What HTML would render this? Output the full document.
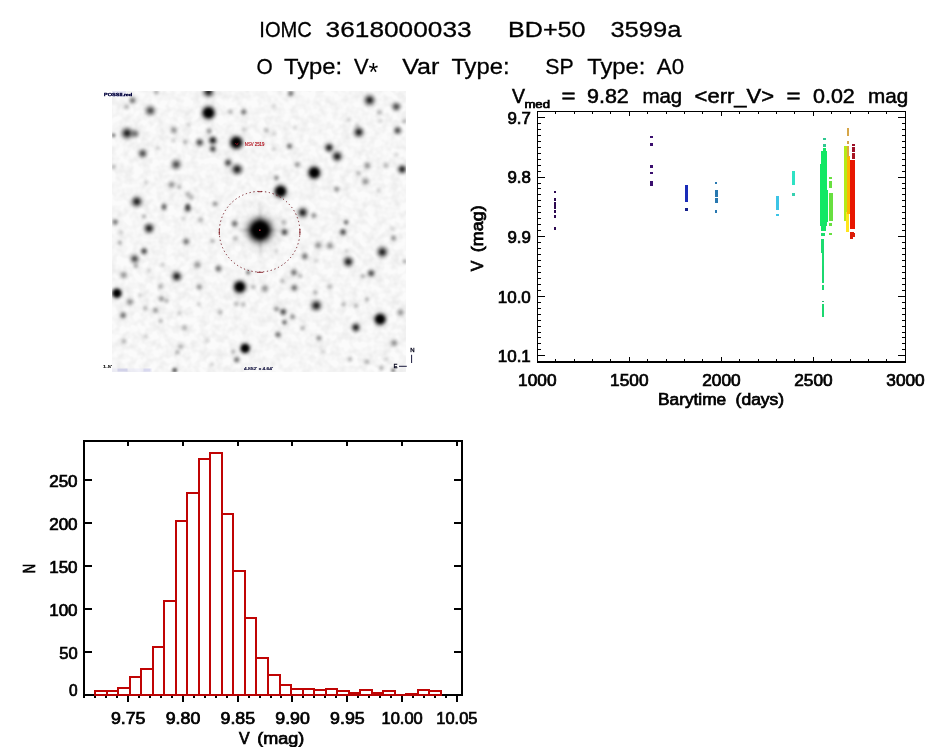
<!DOCTYPE html>
<html lang="en"><head><meta charset="utf-8"><title>IOMC 3618000033</title>
<style>
html,body{margin:0;padding:0;background:#fff;}
body{width:944px;height:747px;overflow:hidden;}
svg{display:block;position:absolute;left:0;top:0;}
text{font-family:"Liberation Sans",sans-serif;fill:#000;}
.t{font-size:22.8px;stroke:#000;stroke-width:0.3px;}
.p{font-size:15.6px;stroke:#000;stroke-width:0.7px;}
.pt{font-size:19.3px;stroke:#000;stroke-width:0.5px;}
.ps{font-size:11px;stroke:#000;stroke-width:0.7px;}
.ax{stroke:#000;fill:none;shape-rendering:crispEdges;}
.hb{stroke:#c00404;stroke-width:2;fill:none;shape-rendering:crispEdges;}
</style></head><body>
<svg width="944" height="747" viewBox="0 0 944 747">
<defs>
<radialGradient id="g"><stop offset="0" stop-color="#000" stop-opacity="1"/><stop offset="0.15" stop-color="#000" stop-opacity="0.93"/><stop offset="0.3" stop-color="#000" stop-opacity="0.75"/><stop offset="0.45" stop-color="#000" stop-opacity="0.52"/><stop offset="0.6" stop-color="#000" stop-opacity="0.3"/><stop offset="0.75" stop-color="#000" stop-opacity="0.14"/><stop offset="0.9" stop-color="#000" stop-opacity="0.04"/><stop offset="1" stop-color="#000" stop-opacity="0"/></radialGradient>
<radialGradient id="s"><stop offset="0" stop-color="#000" stop-opacity="1"/><stop offset="0.2" stop-color="#000" stop-opacity="1"/><stop offset="0.34" stop-color="#000" stop-opacity="0.86"/><stop offset="0.48" stop-color="#000" stop-opacity="0.6"/><stop offset="0.62" stop-color="#000" stop-opacity="0.34"/><stop offset="0.78" stop-color="#000" stop-opacity="0.13"/><stop offset="0.9" stop-color="#000" stop-opacity="0.04"/><stop offset="1" stop-color="#000" stop-opacity="0"/></radialGradient>
<filter id="bl" x="-5%" y="-5%" width="110%" height="110%"><feGaussianBlur stdDeviation="0.9"/></filter>
<radialGradient id="ms"><stop offset="0" stop-color="#000" stop-opacity="1"/><stop offset="0.4" stop-color="#000" stop-opacity="1"/><stop offset="0.5" stop-color="#000" stop-opacity="0.86"/><stop offset="0.6" stop-color="#000" stop-opacity="0.58"/><stop offset="0.72" stop-color="#000" stop-opacity="0.3"/><stop offset="0.85" stop-color="#000" stop-opacity="0.1"/><stop offset="1" stop-color="#000" stop-opacity="0"/></radialGradient>
<filter id="nz" x="0" y="0" width="100%" height="100%" color-interpolation-filters="sRGB"><feTurbulence type="fractalNoise" baseFrequency="0.12" numOctaves="2" seed="7" result="t"/><feColorMatrix in="t" type="matrix" values="0 0 0 0 0  0 0 0 0 0  0 0 0 0 0  0.12 0 0 0 -0.04"/></filter>
<radialGradient id="v"><stop offset="0" stop-color="#000" stop-opacity="1"/><stop offset="0.3" stop-color="#000" stop-opacity="1"/><stop offset="0.42" stop-color="#000" stop-opacity="0.88"/><stop offset="0.54" stop-color="#000" stop-opacity="0.62"/><stop offset="0.66" stop-color="#000" stop-opacity="0.36"/><stop offset="0.8" stop-color="#000" stop-opacity="0.14"/><stop offset="0.92" stop-color="#000" stop-opacity="0.04"/><stop offset="1" stop-color="#000" stop-opacity="0"/></radialGradient>
<clipPath id="ic"><rect x="112" y="91" width="294" height="281"/></clipPath>
</defs>
<rect x="0" y="0" width="944" height="747" fill="#fff"/>
<text class="t" x="259.3" y="37.3" textLength="52.6" lengthAdjust="spacingAndGlyphs">IOMC</text>
<text class="t" x="325.6" y="37.3" textLength="146.0" lengthAdjust="spacingAndGlyphs">3618000033</text>
<text class="t" x="508.0" y="37.3" textLength="77.6" lengthAdjust="spacingAndGlyphs">BD+50</text>
<text class="t" x="610.4" y="37.3" textLength="71.0" lengthAdjust="spacingAndGlyphs">3599a</text>
<text class="t" x="256.6" y="74.4" textLength="16.2" lengthAdjust="spacingAndGlyphs">O</text>
<text class="t" x="284.0" y="74.4" textLength="58.2" lengthAdjust="spacingAndGlyphs">Type:</text>
<text class="t" x="354.0" y="74.4" textLength="14.6" lengthAdjust="spacingAndGlyphs">V</text>
<text x="368.4" y="81.4" style="font-size:25px">*</text>
<text class="t" x="402.2" y="74.4" textLength="37.2" lengthAdjust="spacingAndGlyphs">Var</text>
<text class="t" x="451.4" y="74.4" textLength="58.2" lengthAdjust="spacingAndGlyphs">Type:</text>
<text class="t" x="545.2" y="74.4" textLength="28.4" lengthAdjust="spacingAndGlyphs">SP</text>
<text class="t" x="587.2" y="74.4" textLength="58.2" lengthAdjust="spacingAndGlyphs">Type:</text>
<text class="t" x="656.8" y="74.4" textLength="27.2" lengthAdjust="spacingAndGlyphs">A0</text>
<g clip-path="url(#ic)">
<rect x="112" y="91" width="294" height="281" fill="#fbfbfb"/>
<rect x="112" y="91" width="294" height="281" fill="#000" filter="url(#nz)"/>
<g filter="url(#bl)">
<ellipse cx="208.5" cy="112.8" rx="11.7" ry="13.1" fill="url(#g)" fill-opacity="0.16"/>
<circle cx="208.5" cy="112.8" r="9.7" fill="url(#v)"/>
<circle cx="208.5" cy="91.9" r="8.4" fill="url(#g)" fill-opacity="0.90"/>
<ellipse cx="236.3" cy="142.6" rx="11.7" ry="13.1" fill="url(#g)" fill-opacity="0.16"/>
<circle cx="236.3" cy="142.6" r="9.7" fill="url(#v)"/>
<circle cx="212.8" cy="140.4" r="6.7" fill="url(#g)" fill-opacity="0.90"/>
<circle cx="212.8" cy="148.9" r="5.6" fill="url(#g)" fill-opacity="0.70"/>
<circle cx="199.7" cy="142.4" r="6.2" fill="url(#g)" fill-opacity="0.70"/>
<circle cx="127.1" cy="133.2" r="9.0" fill="url(#g)" fill-opacity="0.90"/>
<circle cx="135.1" cy="133.6" r="6.7" fill="url(#g)" fill-opacity="0.54"/>
<circle cx="150.4" cy="110.6" r="7.9" fill="url(#g)" fill-opacity="0.70"/>
<circle cx="132.5" cy="100.4" r="5.6" fill="url(#g)" fill-opacity="0.54"/>
<circle cx="126.6" cy="106.7" r="5.1" fill="url(#g)" fill-opacity="0.27"/>
<circle cx="243.6" cy="112.0" r="5.1" fill="url(#g)" fill-opacity="0.54"/>
<circle cx="230.3" cy="112.0" r="4.4" fill="url(#g)" fill-opacity="0.27"/>
<circle cx="173.8" cy="130.2" r="6.1" fill="url(#g)" fill-opacity="0.40"/>
<circle cx="142.7" cy="153.5" r="7.0" fill="url(#g)" fill-opacity="0.70"/>
<circle cx="176.2" cy="164.5" r="7.9" fill="url(#g)" fill-opacity="0.70"/>
<circle cx="228.1" cy="162.7" r="6.2" fill="url(#g)" fill-opacity="0.70"/>
<circle cx="237.1" cy="169.3" r="8.4" fill="url(#g)" fill-opacity="0.90"/>
<circle cx="136.8" cy="201.6" r="8.4" fill="url(#g)" fill-opacity="0.90"/>
<circle cx="171.6" cy="184.6" r="6.1" fill="url(#g)" fill-opacity="0.40"/>
<circle cx="179.3" cy="187.1" r="4.4" fill="url(#g)" fill-opacity="0.27"/>
<circle cx="187.8" cy="194.3" r="5.1" fill="url(#g)" fill-opacity="0.27"/>
<circle cx="191.2" cy="197.3" r="4.8" fill="url(#g)" fill-opacity="0.27"/>
<circle cx="209.0" cy="131.0" r="5.1" fill="url(#g)" fill-opacity="0.40"/>
<circle cx="185.2" cy="142.1" r="4.4" fill="url(#g)" fill-opacity="0.27"/>
<circle cx="173.3" cy="140.4" r="4.4" fill="url(#g)" fill-opacity="0.15"/>
<circle cx="158.0" cy="148.0" r="4.4" fill="url(#g)" fill-opacity="0.15"/>
<circle cx="113.5" cy="135.3" r="3.6" fill="url(#g)" fill-opacity="0.54"/>
<circle cx="113.5" cy="166.7" r="4.4" fill="url(#g)" fill-opacity="0.27"/>
<circle cx="156.3" cy="91.9" r="4.8" fill="url(#g)" fill-opacity="0.27"/>
<circle cx="187.8" cy="205.9" r="4.5" fill="url(#g)" fill-opacity="0.54"/>
<circle cx="164.0" cy="205.9" r="4.8" fill="url(#g)" fill-opacity="0.40"/>
<circle cx="215.0" cy="203.8" r="4.8" fill="url(#g)" fill-opacity="0.40"/>
<circle cx="188.6" cy="125.1" r="4.4" fill="url(#g)" fill-opacity="0.15"/>
<circle cx="146.1" cy="182.0" r="4.4" fill="url(#g)" fill-opacity="0.15"/>
<circle cx="243.9" cy="129.3" r="4.4" fill="url(#g)" fill-opacity="0.15"/>
<circle cx="369.6" cy="100.1" r="8.4" fill="url(#g)" fill-opacity="0.90"/>
<circle cx="396.3" cy="106.7" r="7.0" fill="url(#g)" fill-opacity="0.70"/>
<circle cx="358.8" cy="132.2" r="7.9" fill="url(#g)" fill-opacity="0.90"/>
<circle cx="397.6" cy="130.5" r="6.2" fill="url(#g)" fill-opacity="0.70"/>
<circle cx="329.1" cy="147.7" r="7.0" fill="url(#g)" fill-opacity="0.90"/>
<circle cx="337.2" cy="156.5" r="7.9" fill="url(#g)" fill-opacity="0.90"/>
<ellipse cx="314.3" cy="172.7" rx="11.1" ry="12.5" fill="url(#g)" fill-opacity="0.16"/>
<circle cx="314.3" cy="172.7" r="9.3" fill="url(#v)"/>
<ellipse cx="280.6" cy="191.4" rx="11.1" ry="12.5" fill="url(#g)" fill-opacity="0.16"/>
<circle cx="280.6" cy="191.4" r="9.3" fill="url(#v)"/>
<circle cx="402.2" cy="169.3" r="7.0" fill="url(#g)" fill-opacity="0.90"/>
<circle cx="289.5" cy="146.3" r="5.1" fill="url(#g)" fill-opacity="0.54"/>
<circle cx="297.3" cy="164.5" r="5.1" fill="url(#g)" fill-opacity="0.40"/>
<circle cx="367.3" cy="165.5" r="6.1" fill="url(#g)" fill-opacity="0.40"/>
<circle cx="386.1" cy="165.5" r="5.1" fill="url(#g)" fill-opacity="0.27"/>
<circle cx="365.6" cy="181.5" r="6.1" fill="url(#g)" fill-opacity="0.40"/>
<circle cx="358.3" cy="173.2" r="4.4" fill="url(#g)" fill-opacity="0.27"/>
<circle cx="336.7" cy="189.2" r="5.1" fill="url(#g)" fill-opacity="0.40"/>
<circle cx="290.8" cy="93.3" r="5.1" fill="url(#g)" fill-opacity="0.54"/>
<circle cx="379.3" cy="112.3" r="4.8" fill="url(#g)" fill-opacity="0.27"/>
<circle cx="380.1" cy="120.8" r="4.4" fill="url(#g)" fill-opacity="0.15"/>
<circle cx="266.2" cy="130.2" r="4.8" fill="url(#g)" fill-opacity="0.27"/>
<circle cx="273.8" cy="133.6" r="4.4" fill="url(#g)" fill-opacity="0.15"/>
<circle cx="295.1" cy="127.6" r="4.4" fill="url(#g)" fill-opacity="0.15"/>
<circle cx="276.4" cy="177.8" r="4.8" fill="url(#g)" fill-opacity="0.40"/>
<circle cx="273.8" cy="149.2" r="4.4" fill="url(#g)" fill-opacity="0.15"/>
<circle cx="404.4" cy="121.3" r="4.4" fill="url(#g)" fill-opacity="0.27"/>
<circle cx="357.1" cy="125.1" r="4.4" fill="url(#g)" fill-opacity="0.15"/>
<circle cx="273.8" cy="106.4" r="4.4" fill="url(#g)" fill-opacity="0.15"/>
<circle cx="348.6" cy="120.0" r="4.4" fill="url(#g)" fill-opacity="0.15"/>
<circle cx="396.3" cy="154.8" r="4.4" fill="url(#g)" fill-opacity="0.15"/>
<circle cx="378.4" cy="190.5" r="4.4" fill="url(#g)" fill-opacity="0.15"/>
<circle cx="149.0" cy="228.3" r="7.9" fill="url(#g)" fill-opacity="0.90"/>
<circle cx="176.7" cy="276.4" r="7.9" fill="url(#g)" fill-opacity="0.90"/>
<ellipse cx="239.7" cy="286.9" rx="11.1" ry="12.5" fill="url(#g)" fill-opacity="0.16"/>
<circle cx="239.7" cy="286.9" r="9.3" fill="url(#v)"/>
<ellipse cx="116.9" cy="293.2" rx="8.9" ry="10.0" fill="url(#g)" fill-opacity="0.16"/>
<circle cx="116.9" cy="293.2" r="7.4" fill="url(#v)"/>
<circle cx="134.6" cy="258.9" r="7.0" fill="url(#g)" fill-opacity="0.70"/>
<circle cx="144.1" cy="251.2" r="5.6" fill="url(#g)" fill-opacity="0.70"/>
<circle cx="186.1" cy="241.5" r="5.6" fill="url(#g)" fill-opacity="0.54"/>
<circle cx="115.2" cy="222.0" r="5.1" fill="url(#g)" fill-opacity="0.54"/>
<circle cx="234.6" cy="223.7" r="5.6" fill="url(#g)" fill-opacity="0.54"/>
<circle cx="235.4" cy="238.5" r="5.1" fill="url(#g)" fill-opacity="0.27"/>
<circle cx="218.4" cy="268.6" r="5.6" fill="url(#g)" fill-opacity="0.54"/>
<circle cx="197.5" cy="264.8" r="6.1" fill="url(#g)" fill-opacity="0.40"/>
<circle cx="199.2" cy="286.9" r="5.4" fill="url(#g)" fill-opacity="0.40"/>
<circle cx="123.2" cy="315.3" r="5.6" fill="url(#g)" fill-opacity="0.54"/>
<circle cx="123.7" cy="275.0" r="6.1" fill="url(#g)" fill-opacity="0.40"/>
<circle cx="160.6" cy="286.4" r="5.1" fill="url(#g)" fill-opacity="0.27"/>
<circle cx="161.4" cy="298.8" r="5.1" fill="url(#g)" fill-opacity="0.40"/>
<circle cx="166.5" cy="300.9" r="4.4" fill="url(#g)" fill-opacity="0.27"/>
<circle cx="155.5" cy="310.2" r="5.1" fill="url(#g)" fill-opacity="0.40"/>
<circle cx="130.0" cy="301.9" r="6.1" fill="url(#g)" fill-opacity="0.40"/>
<circle cx="187.8" cy="208.7" r="5.6" fill="url(#g)" fill-opacity="0.70"/>
<circle cx="164.0" cy="207.9" r="4.8" fill="url(#g)" fill-opacity="0.40"/>
<circle cx="200.5" cy="219.8" r="4.8" fill="url(#g)" fill-opacity="0.27"/>
<circle cx="144.1" cy="216.4" r="4.4" fill="url(#g)" fill-opacity="0.27"/>
<circle cx="119.8" cy="242.7" r="4.4" fill="url(#g)" fill-opacity="0.27"/>
<circle cx="212.4" cy="241.0" r="4.4" fill="url(#g)" fill-opacity="0.27"/>
<circle cx="148.7" cy="270.8" r="4.8" fill="url(#g)" fill-opacity="0.15"/>
<circle cx="163.1" cy="264.8" r="4.4" fill="url(#g)" fill-opacity="0.15"/>
<circle cx="135.9" cy="265.7" r="4.4" fill="url(#g)" fill-opacity="0.27"/>
<circle cx="145.3" cy="308.2" r="4.4" fill="url(#g)" fill-opacity="0.27"/>
<circle cx="220.1" cy="312.4" r="4.8" fill="url(#g)" fill-opacity="0.27"/>
<circle cx="179.3" cy="313.3" r="4.4" fill="url(#g)" fill-opacity="0.15"/>
<circle cx="160.6" cy="320.9" r="4.4" fill="url(#g)" fill-opacity="0.27"/>
<circle cx="184.4" cy="327.7" r="4.8" fill="url(#g)" fill-opacity="0.27"/>
<circle cx="236.3" cy="303.9" r="4.8" fill="url(#g)" fill-opacity="0.27"/>
<circle cx="243.1" cy="304.3" r="4.4" fill="url(#g)" fill-opacity="0.27"/>
<circle cx="248.2" cy="272.5" r="3.9" fill="url(#g)" fill-opacity="0.54"/>
<circle cx="183.5" cy="218.9" r="4.4" fill="url(#g)" fill-opacity="0.15"/>
<circle cx="120.6" cy="232.5" r="4.4" fill="url(#g)" fill-opacity="0.15"/>
<circle cx="140.2" cy="295.4" r="4.4" fill="url(#g)" fill-opacity="0.15"/>
<circle cx="198.8" cy="303.9" r="4.4" fill="url(#g)" fill-opacity="0.15"/>
<circle cx="302.7" cy="212.6" r="7.9" fill="url(#g)" fill-opacity="0.90"/>
<circle cx="313.8" cy="215.5" r="5.1" fill="url(#g)" fill-opacity="0.40"/>
<circle cx="284.5" cy="232.2" r="5.6" fill="url(#g)" fill-opacity="0.70"/>
<circle cx="284.0" cy="222.3" r="5.1" fill="url(#g)" fill-opacity="0.27"/>
<circle cx="343.0" cy="232.0" r="5.6" fill="url(#g)" fill-opacity="0.70"/>
<circle cx="346.1" cy="222.3" r="4.5" fill="url(#g)" fill-opacity="0.54"/>
<circle cx="318.0" cy="245.3" r="6.1" fill="url(#g)" fill-opacity="0.40"/>
<circle cx="329.9" cy="245.8" r="6.1" fill="url(#g)" fill-opacity="0.40"/>
<circle cx="304.8" cy="256.3" r="5.6" fill="url(#g)" fill-opacity="0.54"/>
<circle cx="348.3" cy="261.8" r="7.9" fill="url(#g)" fill-opacity="0.90"/>
<circle cx="382.3" cy="252.1" r="8.4" fill="url(#g)" fill-opacity="0.90"/>
<circle cx="393.4" cy="238.1" r="5.1" fill="url(#g)" fill-opacity="0.40"/>
<circle cx="371.1" cy="273.3" r="6.2" fill="url(#g)" fill-opacity="0.70"/>
<circle cx="362.8" cy="276.2" r="4.4" fill="url(#g)" fill-opacity="0.27"/>
<circle cx="293.9" cy="272.5" r="5.6" fill="url(#g)" fill-opacity="0.54"/>
<circle cx="300.2" cy="275.9" r="4.4" fill="url(#g)" fill-opacity="0.27"/>
<circle cx="294.2" cy="287.8" r="5.6" fill="url(#g)" fill-opacity="0.54"/>
<circle cx="265.0" cy="288.6" r="6.1" fill="url(#g)" fill-opacity="0.40"/>
<circle cx="253.4" cy="286.9" r="4.4" fill="url(#g)" fill-opacity="0.27"/>
<circle cx="282.3" cy="281.0" r="4.4" fill="url(#g)" fill-opacity="0.27"/>
<circle cx="329.9" cy="286.6" r="4.8" fill="url(#g)" fill-opacity="0.27"/>
<circle cx="315.5" cy="292.5" r="4.4" fill="url(#g)" fill-opacity="0.27"/>
<circle cx="316.3" cy="305.6" r="8.4" fill="url(#g)" fill-opacity="0.90"/>
<ellipse cx="380.1" cy="319.2" rx="10.5" ry="11.9" fill="url(#g)" fill-opacity="0.16"/>
<circle cx="380.1" cy="319.2" r="8.8" fill="url(#v)"/>
<circle cx="355.8" cy="327.4" r="7.0" fill="url(#g)" fill-opacity="0.90"/>
<circle cx="400.5" cy="312.4" r="6.1" fill="url(#g)" fill-opacity="0.40"/>
<circle cx="283.2" cy="311.9" r="5.6" fill="url(#g)" fill-opacity="0.70"/>
<circle cx="276.4" cy="309.0" r="4.8" fill="url(#g)" fill-opacity="0.40"/>
<circle cx="292.5" cy="316.7" r="4.8" fill="url(#g)" fill-opacity="0.40"/>
<circle cx="284.5" cy="322.3" r="4.5" fill="url(#g)" fill-opacity="0.54"/>
<circle cx="343.5" cy="304.4" r="4.4" fill="url(#g)" fill-opacity="0.27"/>
<circle cx="356.0" cy="305.6" r="4.4" fill="url(#g)" fill-opacity="0.27"/>
<circle cx="367.0" cy="299.3" r="4.4" fill="url(#g)" fill-opacity="0.27"/>
<circle cx="404.8" cy="261.4" r="4.4" fill="url(#g)" fill-opacity="0.27"/>
<circle cx="276.4" cy="251.2" r="4.4" fill="url(#g)" fill-opacity="0.15"/>
<circle cx="316.3" cy="260.6" r="4.4" fill="url(#g)" fill-opacity="0.15"/>
<circle cx="346.9" cy="251.2" r="4.4" fill="url(#g)" fill-opacity="0.15"/>
<circle cx="302.7" cy="328.6" r="4.4" fill="url(#g)" fill-opacity="0.15"/>
<circle cx="392.9" cy="229.1" r="4.4" fill="url(#g)" fill-opacity="0.15"/>
<circle cx="123.9" cy="341.5" r="4.8" fill="url(#g)" fill-opacity="0.27"/>
<circle cx="145.9" cy="336.9" r="4.4" fill="url(#g)" fill-opacity="0.15"/>
<circle cx="180.7" cy="346.6" r="4.8" fill="url(#g)" fill-opacity="0.27"/>
<circle cx="177.3" cy="352.2" r="4.4" fill="url(#g)" fill-opacity="0.27"/>
<ellipse cx="245.1" cy="348.3" rx="8.9" ry="10.0" fill="url(#g)" fill-opacity="0.16"/>
<circle cx="245.1" cy="348.3" r="7.4" fill="url(#v)"/>
<circle cx="236.6" cy="359.8" r="5.1" fill="url(#g)" fill-opacity="0.54"/>
<circle cx="233.2" cy="351.7" r="4.4" fill="url(#g)" fill-opacity="0.27"/>
<circle cx="174.7" cy="370.3" r="4.5" fill="url(#g)" fill-opacity="0.70"/>
<circle cx="206.9" cy="340.7" r="4.4" fill="url(#g)" fill-opacity="0.15"/>
<circle cx="212.0" cy="364.4" r="4.4" fill="url(#g)" fill-opacity="0.15"/>
<circle cx="278.0" cy="334.7" r="5.1" fill="url(#g)" fill-opacity="0.54"/>
<circle cx="319.0" cy="338.1" r="5.1" fill="url(#g)" fill-opacity="0.40"/>
<circle cx="394.1" cy="342.9" r="6.1" fill="url(#g)" fill-opacity="0.40"/>
<circle cx="322.9" cy="351.7" r="4.4" fill="url(#g)" fill-opacity="0.15"/>
<circle cx="350.0" cy="359.3" r="4.4" fill="url(#g)" fill-opacity="0.27"/>
<circle cx="366.9" cy="361.9" r="4.8" fill="url(#g)" fill-opacity="0.27"/>
<circle cx="381.4" cy="367.8" r="4.4" fill="url(#g)" fill-opacity="0.27"/>
<circle cx="385.6" cy="359.3" r="4.4" fill="url(#g)" fill-opacity="0.15"/>
<circle cx="302.5" cy="328.0" r="4.4" fill="url(#g)" fill-opacity="0.15"/>
<circle cx="393.2" cy="370.3" r="3.9" fill="url(#g)" fill-opacity="0.54"/>
<circle cx="260.2" cy="230.2" r="27" fill="url(#g)" fill-opacity="0.18"/>
<ellipse cx="260.2" cy="230.2" rx="3.5" ry="34" fill="url(#g)" fill-opacity="0.22"/>
<ellipse cx="260.2" cy="230.2" rx="30" ry="3.5" fill="url(#g)" fill-opacity="0.22"/>
<circle cx="260.0" cy="230.2" r="17.2" fill="url(#ms)"/>
</g>
<rect x="259" y="229.4" width="1.6" height="1.6" fill="#a02838"/>
</g>
<circle cx="259.6" cy="231.7" r="40.3" fill="none" stroke="#6c1018" stroke-width="0.9" stroke-dasharray="1.3 2.6"/>
<path d="M219.3 229v6M299.9 229v6M257 272.3h6M258 191.7h4" stroke="#801820" stroke-width="0.9" fill="none"/>
<path d="M235.4 143.2l1.4 1.4l1.6 -1.4" fill="none" stroke="#b01020" stroke-width="0.9"/>
<text x="244.8" y="146.2" style="font-size:4.6px;fill:#b00c18;stroke:#b00c18;stroke-width:0.15px" textLength="19.6" lengthAdjust="spacingAndGlyphs">NSV 2519</text>
<rect x="112" y="368.4" width="40" height="3.6" fill="#e4e4f6" opacity="0.45"/>
<rect x="117.5" y="368.6" width="10" height="3" fill="#c8c8e4" opacity="0.7"/>
<rect x="143.5" y="368.6" width="7" height="3" fill="#d0d0ec" opacity="0.7"/>
<rect x="112" y="91" width="14" height="6" fill="#dcdcf4" opacity="0.6"/>
<text x="104" y="96" style="font-size:4.3px;fill:#00003c;stroke:#00003c;stroke-width:0.4px" textLength="28" lengthAdjust="spacingAndGlyphs">POSSII.red</text>
<text x="103" y="368.4" style="font-size:4.2px;fill:#000;stroke:#000;stroke-width:0.2px" textLength="9" lengthAdjust="spacingAndGlyphs">1.5'</text>
<text x="244" y="370.2" style="font-size:4.2px;fill:#000030;stroke:#000030;stroke-width:0.2px" textLength="29" lengthAdjust="spacingAndGlyphs">4.852' x 4.64'</text>
<path d="M399 366.3H406.8M411.6 354.8V363" stroke="#000028" stroke-width="0.9" fill="none"/>
<text x="397.4" y="367.6" style="font-size:6px;fill:#000018;stroke:#000018;stroke-width:0.3px" text-anchor="end">E</text>
<text x="412.4" y="352.4" style="font-size:6px;fill:#000018;stroke:#000018;stroke-width:0.3px" text-anchor="middle">N</text>
<g class="ax">
<path d="M537.5 362.0 V111.5 H905.5 V362.0" stroke-width="1.2"/>
<path d="M537.0 361.9 H906.0" stroke-width="2"/>
<path d="M537.5 117.4h7.5M905.5 117.4h-7.5M537.5 123.4h3.6M905.5 123.4h-3.6M537.5 129.3h3.6M905.5 129.3h-3.6M537.5 135.3h3.6M905.5 135.3h-3.6M537.5 141.2h3.6M905.5 141.2h-3.6M537.5 147.2h3.6M905.5 147.2h-3.6M537.5 153.2h3.6M905.5 153.2h-3.6M537.5 159.1h3.6M905.5 159.1h-3.6M537.5 165.1h3.6M905.5 165.1h-3.6M537.5 171.0h3.6M905.5 171.0h-3.6M537.5 177.0h7.5M905.5 177.0h-7.5M537.5 183.0h3.6M905.5 183.0h-3.6M537.5 188.9h3.6M905.5 188.9h-3.6M537.5 194.9h3.6M905.5 194.9h-3.6M537.5 200.8h3.6M905.5 200.8h-3.6M537.5 206.8h3.6M905.5 206.8h-3.6M537.5 212.8h3.6M905.5 212.8h-3.6M537.5 218.7h3.6M905.5 218.7h-3.6M537.5 224.7h3.6M905.5 224.7h-3.6M537.5 230.6h3.6M905.5 230.6h-3.6M537.5 236.6h7.5M905.5 236.6h-7.5M537.5 242.6h3.6M905.5 242.6h-3.6M537.5 248.5h3.6M905.5 248.5h-3.6M537.5 254.5h3.6M905.5 254.5h-3.6M537.5 260.4h3.6M905.5 260.4h-3.6M537.5 266.4h3.6M905.5 266.4h-3.6M537.5 272.4h3.6M905.5 272.4h-3.6M537.5 278.3h3.6M905.5 278.3h-3.6M537.5 284.3h3.6M905.5 284.3h-3.6M537.5 290.2h3.6M905.5 290.2h-3.6M537.5 296.2h7.5M905.5 296.2h-7.5M537.5 302.2h3.6M905.5 302.2h-3.6M537.5 308.1h3.6M905.5 308.1h-3.6M537.5 314.1h3.6M905.5 314.1h-3.6M537.5 320.0h3.6M905.5 320.0h-3.6M537.5 326.0h3.6M905.5 326.0h-3.6M537.5 332.0h3.6M905.5 332.0h-3.6M537.5 337.9h3.6M905.5 337.9h-3.6M537.5 343.9h3.6M905.5 343.9h-3.6M537.5 349.8h3.6M905.5 349.8h-3.6M537.5 355.8h7.5M905.5 355.8h-7.5" stroke-width="1"/>
<path d="M555.7 361.0v-2.2M555.7 111.5v2.2M574.1 361.0v-2.2M574.1 111.5v2.2M592.5 361.0v-2.2M592.5 111.5v2.2M610.9 361.0v-2.2M610.9 111.5v2.2M629.3 361.0v-4.2M629.3 111.5v4.2M647.7 361.0v-2.2M647.7 111.5v2.2M666.1 361.0v-2.2M666.1 111.5v2.2M684.5 361.0v-2.2M684.5 111.5v2.2M702.9 361.0v-2.2M702.9 111.5v2.2M721.3 361.0v-4.2M721.3 111.5v4.2M739.7 361.0v-2.2M739.7 111.5v2.2M758.1 361.0v-2.2M758.1 111.5v2.2M776.5 361.0v-2.2M776.5 111.5v2.2M794.9 361.0v-2.2M794.9 111.5v2.2M813.3 361.0v-4.2M813.3 111.5v4.2M831.7 361.0v-2.2M831.7 111.5v2.2M850.1 361.0v-2.2M850.1 111.5v2.2M868.5 361.0v-2.2M868.5 111.5v2.2M886.9 361.0v-2.2M886.9 111.5v2.2" stroke-width="1"/>
</g>
<text class="p" x="507.4" y="123.7" textLength="23.4" lengthAdjust="spacingAndGlyphs">9.7</text>
<text class="p" x="507.4" y="183.3" textLength="23.4" lengthAdjust="spacingAndGlyphs">9.8</text>
<text class="p" x="507.4" y="242.9" textLength="23.4" lengthAdjust="spacingAndGlyphs">9.9</text>
<text class="p" x="497.8" y="302.5" textLength="33.0" lengthAdjust="spacingAndGlyphs">10.0</text>
<text class="p" x="497.8" y="362.1" textLength="33.0" lengthAdjust="spacingAndGlyphs">10.1</text>
<text class="p" x="518.1" y="385.6" textLength="38.4" lengthAdjust="spacingAndGlyphs">1000</text>
<text class="p" x="610.1" y="385.6" textLength="38.4" lengthAdjust="spacingAndGlyphs">1500</text>
<text class="p" x="702.2" y="385.6" textLength="38.4" lengthAdjust="spacingAndGlyphs">2000</text>
<text class="p" x="794.2" y="385.6" textLength="38.4" lengthAdjust="spacingAndGlyphs">2500</text>
<text class="p" x="886.3" y="385.6" textLength="38.4" lengthAdjust="spacingAndGlyphs">3000</text>
<text class="p" x="658.0" y="405.2" textLength="68.2" lengthAdjust="spacingAndGlyphs">Barytime</text>
<text class="p" x="735.6" y="405.2" textLength="48.6" lengthAdjust="spacingAndGlyphs">(days)</text>
<text class="p" transform="translate(483 271.2) rotate(-90)" textLength="10.6" lengthAdjust="spacingAndGlyphs">V</text>
<text class="p" transform="translate(483 252.2) rotate(-90)" textLength="47" lengthAdjust="spacingAndGlyphs">(mag)</text>
<text class="pt" x="512.0" y="102.5" textLength="13.0" lengthAdjust="spacingAndGlyphs">V</text>
<text class="ps" x="524.4" y="107.6" textLength="25.6" lengthAdjust="spacingAndGlyphs">med</text>
<text class="pt" x="561.4" y="102.5" textLength="14.0" lengthAdjust="spacingAndGlyphs">=</text>
<text class="pt" x="587.0" y="102.5" textLength="41.8" lengthAdjust="spacingAndGlyphs">9.82</text>
<text class="pt" x="642.6" y="102.5" textLength="39.6" lengthAdjust="spacingAndGlyphs">mag</text>
<text class="pt" x="694.6" y="102.5" textLength="79.4" lengthAdjust="spacingAndGlyphs">&lt;err_V&gt;</text>
<text class="pt" x="786.6" y="102.5" textLength="14.0" lengthAdjust="spacingAndGlyphs">=</text>
<text class="pt" x="813.0" y="102.5" textLength="41.8" lengthAdjust="spacingAndGlyphs">0.02</text>
<text class="pt" x="868.0" y="102.5" textLength="40.2" lengthAdjust="spacingAndGlyphs">mag</text>
<g shape-rendering="crispEdges">
<rect x="553.5" y="190.8" width="2.5" height="2.5" fill="#2c0850"/>
<rect x="553.5" y="198.2" width="2.5" height="2.5" fill="#2c0850"/>
<rect x="553.5" y="202.2" width="2.5" height="2.5" fill="#2c0850"/>
<rect x="553.5" y="204.8" width="2.5" height="2.5" fill="#2c0850"/>
<rect x="553.5" y="206.3" width="2.5" height="2.5" fill="#2c0850"/>
<rect x="553.5" y="210.2" width="2.5" height="2.5" fill="#2c0850"/>
<rect x="553.5" y="215.3" width="2.5" height="2.5" fill="#2c0850"/>
<rect x="553.5" y="227.2" width="2.5" height="2.5" fill="#2c0850"/>
<rect x="650.1" y="135.9" width="2.5" height="2.5" fill="#3a0e6e"/>
<rect x="650.1" y="143.2" width="2.5" height="2.5" fill="#3a0e6e"/>
<rect x="650.1" y="165.2" width="2.5" height="2.5" fill="#3a0e6e"/>
<rect x="650.1" y="171.8" width="2.5" height="2.5" fill="#3a0e6e"/>
<rect x="650.1" y="181.2" width="2.5" height="2.5" fill="#3a0e6e"/>
<rect x="650.1" y="183.8" width="2.5" height="2.5" fill="#3a0e6e"/>
<rect x="684.8" y="185.3" width="3.0" height="17.0" fill="#1a2cb8"/>
<rect x="685.0" y="208.2" width="2.5" height="2.5" fill="#14208c"/>
<rect x="714.9" y="181.8" width="2.5" height="2.5" fill="#2878b0"/>
<rect x="714.8" y="190.0" width="2.8" height="6.6" fill="#2878b0"/>
<rect x="714.8" y="198.4" width="2.8" height="4.6" fill="#2878b0"/>
<rect x="714.9" y="210.2" width="2.5" height="2.5" fill="#2878b0"/>
<rect x="776.0" y="195.5" width="3.2" height="14.5" fill="#3cc4e6"/>
<rect x="776.4" y="213.8" width="2.5" height="2.5" fill="#3cc4e6"/>
<rect x="792.0" y="170.8" width="3.4" height="14.5" fill="#2ee2c4"/>
<rect x="792.4" y="193.2" width="2.5" height="2.5" fill="#36d0b0"/>
<rect x="823.0" y="137.8" width="2.5" height="2.5" fill="#30c890"/>
<rect x="823.0" y="144.2" width="2.5" height="2.5" fill="#30c890"/>
<rect x="823.0" y="148.4" width="3.4" height="3.6" fill="#12e864"/>
<rect x="821.2" y="151.0" width="5.6" height="14.0" fill="#12e864"/>
<rect x="820.4" y="164.0" width="6.8" height="31.0" fill="#12e864"/>
<rect x="820.4" y="190.0" width="7.4" height="32.0" fill="#12e864"/>
<rect x="820.4" y="222.0" width="7.0" height="4.0" fill="#16e468"/>
<rect x="820.6" y="226.0" width="5.0" height="4.5" fill="#16e468"/>
<rect x="820.8" y="233.0" width="3.8" height="3.0" fill="#1cdc70"/>
<rect x="820.6" y="238.5" width="3.8" height="14.5" fill="#1cdc70"/>
<rect x="821.6" y="253.0" width="2.6" height="13.0" fill="#1cdc70"/>
<rect x="822.0" y="266.0" width="2.0" height="16.5" fill="#1cd870"/>
<rect x="822.0" y="285.0" width="2.0" height="4.6" fill="#1cd870"/>
<rect x="822.0" y="300.8" width="2.0" height="1.6" fill="#28b070"/>
<rect x="822.0" y="303.6" width="2.0" height="13.4" fill="#1cd870"/>
<rect x="829.0" y="177.0" width="3.4" height="2.2" fill="#68e040"/>
<rect x="829.0" y="181.4" width="3.4" height="6.6" fill="#68e040"/>
<rect x="829.0" y="193.0" width="3.6" height="27.8" fill="#68e040"/>
<rect x="829.4" y="223.3" width="2.5" height="2.5" fill="#68e040"/>
<rect x="829.4" y="232.8" width="2.5" height="2.5" fill="#68e040"/>
<rect x="844.0" y="146.0" width="2.6" height="75.0" fill="#b6ea18"/>
<rect x="846.0" y="212.0" width="3.2" height="19.6" fill="#ffe61e"/>
<rect x="846.6" y="156.0" width="3.6" height="58.0" fill="#ffb400"/>
<rect x="846.6" y="128.0" width="2.6" height="7.6" fill="#d6a648"/>
<rect x="846.6" y="141.0" width="2.6" height="2.6" fill="#d6a648"/>
<rect x="846.6" y="146.0" width="2.8" height="11.0" fill="#e0a838"/>
<rect x="850.0" y="160.0" width="5.0" height="68.8" fill="#e81600"/>
<rect x="850.0" y="232.0" width="4.0" height="3.4" fill="#dc1c08"/>
<rect x="850.0" y="235.4" width="2.6" height="3.2" fill="#dc1c08"/>
<rect x="851.6" y="233.4" width="3.0" height="3.2" fill="#dc1c08"/>
<rect x="852.4" y="144.2" width="2.6" height="2.2" fill="#9c1028"/>
<rect x="851.8" y="147.4" width="3.2" height="5.0" fill="#9c1028"/>
<rect x="851.6" y="153.4" width="3.0" height="5.6" fill="#a81420"/>
</g>
<g class="ax">
<rect x="84.0" y="441.0" width="378.0" height="254.0" stroke-width="2"/>
<path d="M84.0 652.0h8M462.0 652.0h-8M84.0 609.0h8M462.0 609.0h-8M84.0 565.9h8M462.0 565.9h-8M84.0 522.9h8M462.0 522.9h-8M84.0 479.9h8M462.0 479.9h-8" stroke-width="2"/>
<path d="M84.2 696.0v1.8M95.1 696.0v1.8M106.1 696.0v1.8M117.0 696.0v1.8M128.0 696.0v5.8M128.0 442.0v4M139.0 696.0v1.8M149.9 696.0v1.8M160.9 696.0v1.8M171.8 696.0v1.8M182.8 696.0v5.8M182.8 442.0v4M193.7 696.0v1.8M204.7 696.0v1.8M215.7 696.0v1.8M226.6 696.0v1.8M237.6 696.0v5.8M237.6 442.0v4M248.5 696.0v1.8M259.5 696.0v1.8M270.5 696.0v1.8M281.4 696.0v1.8M292.4 696.0v5.8M292.4 442.0v4M303.3 696.0v1.8M314.3 696.0v1.8M325.2 696.0v1.8M336.2 696.0v1.8M347.2 696.0v5.8M347.2 442.0v4M358.1 696.0v1.8M369.1 696.0v1.8M380.0 696.0v1.8M391.0 696.0v1.8M401.9 696.0v5.8M401.9 442.0v4M412.9 696.0v1.8M423.9 696.0v1.8M434.8 696.0v1.8M445.8 696.0v1.8M456.7 696.0v5.8M456.7 442.0v4" stroke-width="2"/>
</g>
<path class="hb" d="M95.0 695.0V690.6H106.5V695.0M106.5 695.0V690.6H118.1V695.0M118.1 695.0V688.0H129.6V695.0M129.6 695.0V676.8H141.1V695.0M141.1 695.0V669.1H152.7V695.0M152.7 695.0V646.7H164.2V695.0M164.2 695.0V600.7H175.7V695.0M175.7 695.0V521.1H187.2V695.0M187.2 695.0V492.7H198.8V695.0M198.8 695.0V459.2H210.3V695.0M210.3 695.0V453.1H221.8V695.0M221.8 695.0V513.8H233.4V695.0M233.4 695.0V571.4H244.9V695.0M244.9 695.0V618.3H256.4V695.0M256.4 695.0V658.3H267.9V695.0M267.9 695.0V675.1H279.5V695.0M279.5 695.0V684.6H291.0V695.0M291.0 695.0V689.3H302.5V695.0M302.5 695.0V689.3H314.1V695.0M314.1 695.0V689.7H325.6V695.0M325.6 695.0V688.9H337.1V695.0M337.1 695.0V690.6H348.7V695.0M348.7 695.0V693.2H360.2V695.0M360.2 695.0V689.7H371.7V695.0M371.7 695.0V693.2H383.2V695.0M383.2 695.0V690.6H394.8V695.0M394.8 695.0V694.6H406.3V695.0M406.3 695.0V693.9H417.8V695.0M417.8 695.0V689.7H429.4V695.0M429.4 695.0V690.6H440.9V695.0"/>
<path d="M94.0 695.0H441.9" stroke="#b80404" stroke-width="2" fill="none" shape-rendering="crispEdges"/>
<text class="p" x="69.0" y="695.8" textLength="8.6" lengthAdjust="spacingAndGlyphs">0</text>
<text class="p" x="59.2" y="658.6" textLength="18.4" lengthAdjust="spacingAndGlyphs">50</text>
<text class="p" x="49.2" y="615.6" textLength="28.4" lengthAdjust="spacingAndGlyphs">100</text>
<text class="p" x="49.2" y="572.5" textLength="28.4" lengthAdjust="spacingAndGlyphs">150</text>
<text class="p" x="49.2" y="529.5" textLength="28.4" lengthAdjust="spacingAndGlyphs">200</text>
<text class="p" x="49.2" y="486.5" textLength="28.4" lengthAdjust="spacingAndGlyphs">250</text>
<text class="p" x="110.9" y="724.4" textLength="34.6" lengthAdjust="spacingAndGlyphs">9.75</text>
<text class="p" x="165.7" y="724.4" textLength="34.6" lengthAdjust="spacingAndGlyphs">9.80</text>
<text class="p" x="220.5" y="724.4" textLength="34.6" lengthAdjust="spacingAndGlyphs">9.85</text>
<text class="p" x="275.3" y="724.4" textLength="34.6" lengthAdjust="spacingAndGlyphs">9.90</text>
<text class="p" x="330.1" y="724.4" textLength="34.6" lengthAdjust="spacingAndGlyphs">9.95</text>
<text class="p" x="381.5" y="724.4" textLength="41.2" lengthAdjust="spacingAndGlyphs">10.00</text>
<text class="p" x="436.3" y="724.4" textLength="41.2" lengthAdjust="spacingAndGlyphs">10.05</text>
<text class="p" x="238.9" y="744.4" textLength="10.6" lengthAdjust="spacingAndGlyphs">V</text>
<text class="p" x="257.2" y="744.4" textLength="47.0" lengthAdjust="spacingAndGlyphs">(mag)</text>
<text class="p" transform="translate(35 573.2) rotate(-90)" textLength="9.4" lengthAdjust="spacingAndGlyphs">N</text>
</svg>
</body></html>
